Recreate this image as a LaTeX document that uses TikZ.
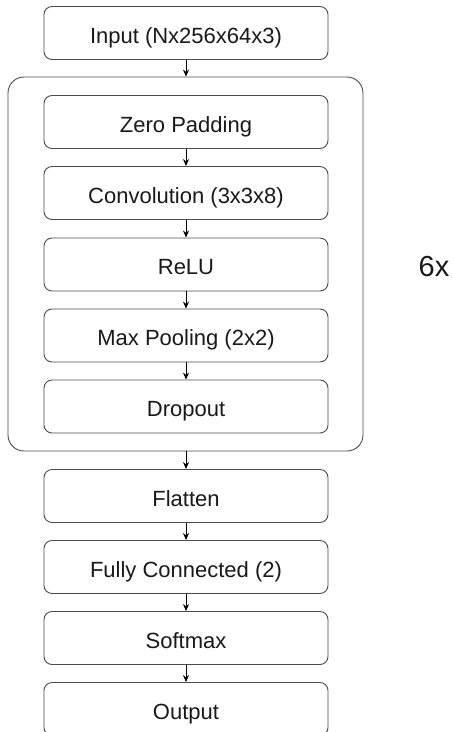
\documentclass[tikz,border=0pt]{standalone}
\usepackage{fontspec}
\setmainfont{Liberation Sans}
\usetikzlibrary{arrows.meta}
\tikzset{
  layer/.style={draw=black!70, line width=0.9pt, rounded corners=8pt, minimum width=284pt, minimum height=53pt, inner sep=0pt, text height=22pt, text depth=2pt, font=\fontsize{22}{26}\selectfont, text=black!90},
  conn/.style={draw=black, line width=0.9pt, -{Stealth[length=7pt,width=6pt]}},
  group/.style={draw=black!70, line width=0.9pt, rounded corners=16pt}
}
\begin{document}
\begin{tikzpicture}[x=1pt,y=-1pt]
\useasboundingbox (0,0) rectangle (453,732);
\node[group, minimum width=355pt, minimum height=374pt] (grp) at (185.5,264) {};
\node[layer] (in) at (186,33) {Input (Nx256x64x3)};
\node[layer] (zp) at (186,122) {Zero Padding};
\node[layer] (conv) at (186,193) {Convolution (3x3x8)};
\node[layer] (relu) at (186,264.5) {ReLU};
\node[layer] (mp) at (186,335.5) {Max Pooling (2x2)};
\node[layer] (drop) at (186,406.5) {Dropout};
\node[layer] (flat) at (186,496) {Flatten};
\node[layer] (fc) at (186,567) {Fully Connected (2)};
\node[layer] (soft) at (186,638) {Softmax};
\node[layer] (out) at (186,709) {Output};
\node[font=\fontsize{29}{32}\selectfont, text=black!90, anchor=center] (rep) at (434,267) {6x};
\draw[conn] (in.south) -- (in.south |- grp.north);
\draw[conn] (zp) -- (conv);
\draw[conn] (conv) -- (relu);
\draw[conn] (relu) -- (mp);
\draw[conn] (mp) -- (drop);
\draw[conn] (grp.south -| flat.north) -- (flat.north);
\draw[conn] (flat) -- (fc);
\draw[conn] (fc) -- (soft);
\draw[conn] (soft) -- (out);
\end{tikzpicture}
\end{document}
